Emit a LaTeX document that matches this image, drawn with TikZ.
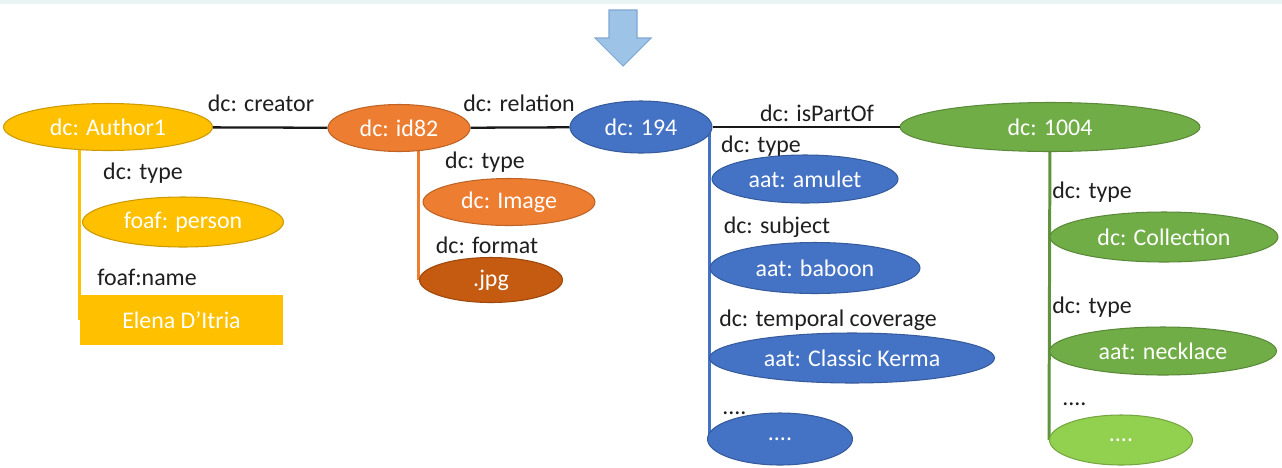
\documentclass[tikz,border=0pt]{standalone}
\usepackage{fontspec}
\setmainfont{Carlito}
\usetikzlibrary{shapes.geometric}
\pgfdeclarelayer{background}
\pgfsetlayers{background,main}

\definecolor{gold}{HTML}{FFC000}
\definecolor{orng}{HTML}{ED7D31}
\definecolor{rust}{HTML}{C55A11}
\definecolor{blu}{HTML}{4472C4}
\definecolor{grn}{HTML}{70AD47}
\definecolor{limegrn}{HTML}{92D050}
\definecolor{arrowblue}{HTML}{9DC3E6}
\definecolor{arrowedge}{HTML}{7FA7D3}
\definecolor{topband}{HTML}{EAF5F3}

\newcommand{\dcfont}{\fontsize{13.6}{16}\selectfont}

\tikzset{
  res/.style={ellipse, inner sep=0pt, fill=#1, draw=#1!80!black, line width=0.6pt, text=white, font=\dcfont},
  lit/.style={rectangle, inner sep=0pt, fill=#1, text=white, font=\dcfont},
  prop/.style={inner sep=0pt, text=black!88, font=\dcfont},
  rel/.style={line width=1.3pt, black!90},
  stem/.style={line width=1.7pt, #1},
}

\begin{document}
\begin{tikzpicture}[x=0.02cm, y=-0.02cm]
  \useasboundingbox (0,0) rectangle (1282,467);

  % down arrow
  \draw[draw=arrowedge, fill=arrowblue, line width=0.6pt]
    (609,10) -- (637,10) -- (637,38) -- (651,38) -- (623,66) -- (595,38) -- (609,38) -- cycle;

  % main resources
  \node[res=gold, minimum width=4.18cm, minimum height=0.94cm] (author) at (108,127) {dc: Author1};
  \node[res=orng, minimum width=2.84cm, minimum height=0.94cm] (id82) at (399,128) {dc: id82};
  \node[res=blu, minimum width=2.84cm, minimum height=1.04cm] (obj194) at (641,127) {dc: 194};
  \node[res=grn, minimum width=6.0cm, minimum height=0.98cm] (coll1004) at (1050,127) {dc: 1004};

  % author branch
  \node[res=gold, minimum width=4.02cm, minimum height=1.0cm] (person) at (183,222) {foaf: person};
  \node[lit=gold, minimum width=4.06cm, minimum height=1.0cm] (elena) at (181.5,320) {Elena D’Itria};

  % id82 branch
  \node[res=orng, minimum width=3.44cm, minimum height=0.94cm] (image) at (509,202) {dc: Image};
  \node[res=rust, minimum width=2.86cm, minimum height=0.9cm] (jpg) at (491,280) {.jpg};

  % 194 branch
  \node[res=blu, minimum width=3.72cm, minimum height=0.96cm] (amulet) at (805,179) {aat: amulet};
  \node[res=blu, minimum width=4.2cm, minimum height=1.02cm] (baboon) at (815,268) {aat: baboon};
  \node[res=blu, minimum width=5.7cm, minimum height=1.0cm] (kerma) at (852,358) {aat: Classic Kerma};
  \node[res=blu, minimum width=2.9cm, minimum height=1.04cm] (bluemore) at (780,439) {....};

  % 1004 branch
  \node[res=grn, minimum width=4.56cm, minimum height=1.0cm] (collection) at (1164,237) {dc: Collection};
  \node[res=grn, minimum width=4.54cm, minimum height=0.96cm] (necklace) at (1163,351) {aat: necklace};
  \node[res=limegrn, minimum width=2.86cm, minimum height=1.0cm] (greenmore) at (1121,440) {....};

  % property labels
  \node[prop] (creator) at (261,103) {dc: creator};
  \node[prop] (relation) at (519,103) {dc: relation};
  \node[prop] (ispartof) at (817,113) {dc: isPartOf};
  \node[prop] (authortype) at (143,173) {dc: type};
  \node[prop] (foafname) at (147,277) {foaf:name};
  \node[prop] (imagetype) at (485,162) {dc: type};
  \node[prop] (format) at (487,245) {dc: format};
  \node[prop] (amulettype) at (761,146) {dc: type};
  \node[prop] (subject) at (777,227) {dc: subject};
  \node[prop] (temporal) at (828,320) {dc: temporal coverage};
  \node[prop, anchor=base west] (bluedots) at (722,414) {....};
  \node[prop] (colltype) at (1092,192) {dc: type};
  \node[prop] (necktype) at (1092,307) {dc: type};
  \node[prop, anchor=base west] (greendots) at (1062,405) {....};

  % horizontal relations
  \draw[rel] (author) -- (id82);
  \draw[rel] (id82) -- (obj194);
  \draw[rel] (obj194) -- (coll1004);

  % page and vertical stems behind the nodes
  \begin{pgfonlayer}{background}
    \fill[white] (0,0) rectangle (1282,467);
    \fill[topband] (0,0) rectangle (1282,4);
    \draw[stem=gold, line width=2pt] (author.center -| elena.west) -- (elena.west);
    \draw[stem=orng] (id82.center -| jpg.west) -- (jpg.west);
    \draw[stem=blu] (obj194.center -| kerma.west) -- (kerma.west |- bluemore.west);
    \draw[stem=grn!85!black] (coll1004.center) -- (greenmore.west);
  \end{pgfonlayer}
\end{tikzpicture}
\end{document}
